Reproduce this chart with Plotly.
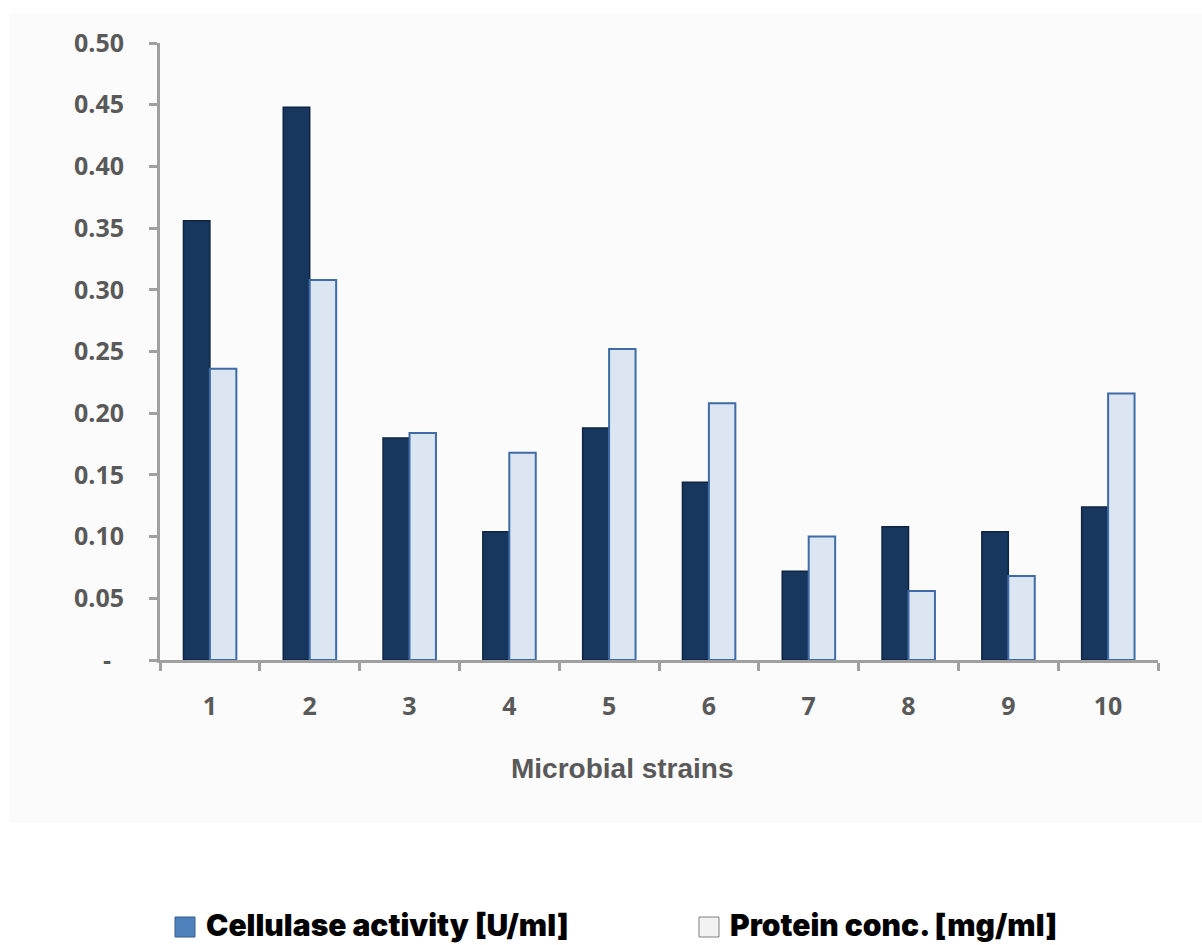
import plotly.graph_objects as go

# Strain labels and measured values
strains = ["1", "2", "3", "4", "5", "6", "7", "8", "9", "10"]
cellulase_activity = [0.356, 0.448, 0.180, 0.104, 0.188, 0.144, 0.072, 0.108, 0.104, 0.124]
protein_conc = [0.236, 0.308, 0.184, 0.168, 0.252, 0.208, 0.100, 0.056, 0.068, 0.216]

y_tick_vals = [0.0, 0.05, 0.10, 0.15, 0.20, 0.25, 0.30, 0.35, 0.40, 0.45, 0.50]
y_tick_text = ["-\u00a0\u00a0", "0.05", "0.10", "0.15", "0.20", "0.25", "0.30", "0.35", "0.40", "0.45", "0.50"]

legend_labels = ["Cellulase activity [U/ml]", "Protein conc. [mg/ml]"]
x_title = "Microbial strains"

W, H = 1202, 945
L, R, T, B = 160, 44, 43, 285
pw, ph = W - L - R, H - T - B


def px_x(p):
    return (p - L) / pw


def px_y(p):
    return (H - B - p) / ph


PANEL = "#fbfbfb"
AXIS = "#a0a0a0"
TEXT = "#595959"

fig = go.Figure()
fig.add_trace(go.Bar(
    x=strains, y=cellulase_activity, name=legend_labels[0],
    marker=dict(color="#17375e", line=dict(color="#0e2440", width=1.5)),
    showlegend=False,
))
fig.add_trace(go.Bar(
    x=strains, y=protein_conc, name=legend_labels[1],
    marker=dict(color="#dce6f2", line=dict(color="#3f6ba6", width=2)),
    showlegend=False,
))

fig.update_layout(
    width=W, height=H,
    margin=dict(l=L, r=R, t=T, b=B, pad=0),
    paper_bgcolor="white",
    plot_bgcolor=PANEL,
    barmode="group",
    bargap=0.47,
    bargroupgap=0,
    font=dict(family="Open Sans", color=TEXT),
    xaxis=dict(
        type="category",
        showgrid=False, zeroline=False,
        showline=True, linecolor=AXIS, linewidth=3,
        ticks="outside", tickson="boundaries", ticklen=8, tickwidth=3, tickcolor=AXIS,
        tickfont=dict(family="Open Sans", size=25, color=TEXT, weight="bold"),
        ticklabelstandoff=22,
    ),
    yaxis=dict(
        range=[0, 0.5],
        showgrid=False, zeroline=False,
        showline=True, linecolor=AXIS, linewidth=3,
        ticks="outside", ticklen=8, tickwidth=3, tickcolor=AXIS,
        tickvals=y_tick_vals, ticktext=y_tick_text,
        tickfont=dict(family="Open Sans", size=25, color=TEXT, weight="bold"),
        ticklabelstandoff=20,
    ),
)

# Light panel behind the chart area
fig.add_shape(type="rect", xref="paper", yref="paper",
              x0=px_x(9), x1=px_x(1202), y0=px_y(823), y1=px_y(13),
              fillcolor=PANEL, line=dict(width=0), layer="below")

# Category axis title
fig.add_annotation(xref="paper", yref="paper", x=px_x(622), y=px_y(768),
                   xanchor="center", yanchor="middle", showarrow=False,
                   text="<b>%s</b>" % x_title,
                   font=dict(family="Liberation Sans", size=28, color=TEXT))

# Legend keys
legend_items = [
    (175, legend_labels[0], "#4f81bd", "#385d8a"),
    (699, legend_labels[1], "#f2f2f2", "#7f7f7f"),
]
for x0, label, fill, edge in legend_items:
    fig.add_shape(type="rect", xref="paper", yref="paper",
                  x0=px_x(x0), x1=px_x(x0 + 20), y0=px_y(937), y1=px_y(917),
                  fillcolor=fill, line=dict(color=edge, width=1))
    fig.add_annotation(xref="paper", yref="paper", x=px_x(x0 + 29), y=px_y(925),
                       xanchor="left", yanchor="middle", showarrow=False,
                       text=label,
                       font=dict(family="Inter", size=30, color="black", weight=900))

fig.write_html("out.html")
